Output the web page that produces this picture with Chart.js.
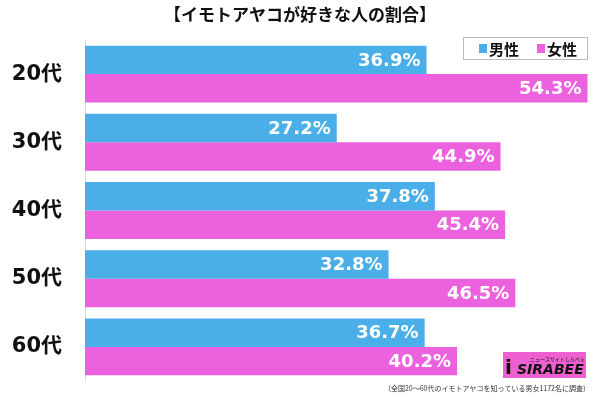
<!DOCTYPE html>
<html>
<head>
<meta charset="utf-8">
<script src="https://cdn.jsdelivr.net/npm/chart.js@4"></script>
<style>
  html, body { margin: 0; padding: 0; background: #fff; }
  #wrap { width: 600px; height: 396px; }
</style>
</head>
<body>
<div id="wrap"><canvas id="myChart" width="600" height="396"></canvas></div>
<script>
const categories = ['20代', '30代', '40代', '50代', '60代'];
const maleValues = [36.9, 27.2, 37.8, 32.8, 36.7];
const femaleValues = [54.3, 44.9, 45.4, 46.5, 40.2];
const seriesNames = ['男性', '女性'];

const BLUE = '#4aaee8';
const PINK = '#ec62de';
const JP = '"Noto Sans CJK JP", "Noto Sans", sans-serif';
const NUM = '"DejaVu Sans", "Noto Sans CJK JP", sans-serif';

// title, legend, value labels, footnote and logo
const decorations = {
  id: 'decorations',
  afterDatasetsDraw(chart) {
    const ctx = chart.ctx;
    const area = chart.chartArea;
    ctx.save();

    // value labels at bar ends
    ctx.fillStyle = '#fff';
    ctx.font = 'bold 18px ' + NUM;
    ctx.textAlign = 'right';
    ctx.textBaseline = 'middle';
    chart.data.datasets.forEach((ds, di) => {
      chart.getDatasetMeta(di).data.forEach((bar, i) => {
        const x = Math.min(bar.x, area.right) - 6;
        ctx.fillText(ds.data[i].toFixed(1) + '%', x, bar.y + 1);
      });
    });

    // title
    ctx.fillStyle = '#111';
    ctx.font = 'bold 17px ' + JP;
    ctx.textAlign = 'center';
    ctx.fillText('【イモトアヤコが好きな人の割合】', 300, 15);

    // legend box
    ctx.fillStyle = '#fff';
    ctx.fillRect(463, 37, 125, 23);
    ctx.strokeStyle = '#bbb';
    ctx.lineWidth = 1;
    ctx.strokeRect(463.5, 37.5, 124, 22);
    ctx.font = 'bold 15px ' + JP;
    ctx.textAlign = 'left';
    const colors = [BLUE, PINK];
    const lx = [479, 537];
    seriesNames.forEach((name, k) => {
      ctx.fillStyle = colors[k];
      ctx.fillRect(lx[k], 44, 8, 9);
      ctx.fillStyle = '#111';
      ctx.fillText(name, lx[k] + 10, 49);
    });

    // logo
    ctx.fillStyle = '#ee5fd0';
    ctx.fillRect(503, 352, 83, 26);
    ctx.fillStyle = '#111';
    ctx.font = 'italic bold 14px "DejaVu Sans", sans-serif';
    ctx.fillText('SIRABEE', 517, 370);
    ctx.font = 'bold 20px "DejaVu Sans", sans-serif';
    ctx.fillText('i', 505, 369);
    ctx.font = '5px ' + JP;
    ctx.fillText('ニュースサイトしらべぇ', 530, 359);

    // footnote
    ctx.fillStyle = '#333';
    ctx.font = '7px ' + JP;
    ctx.textAlign = 'right';
    ctx.fillText('（全国20～60代のイモトアヤコを知っている男女1172名に調査）', 590, 388);

    ctx.restore();
  }
};

new Chart(document.getElementById('myChart'), {
  type: 'bar',
  data: {
    labels: categories,
    datasets: [
      { label: seriesNames[0], data: maleValues, backgroundColor: BLUE },
      { label: seriesNames[1], data: femaleValues, backgroundColor: PINK }
    ]
  },
  options: {
    indexAxis: 'y',
    responsive: false,
    animation: false,
    layout: { padding: { top: 40, bottom: 15, left: 0, right: 6 } },
    datasets: { bar: { categoryPercentage: 0.835, barPercentage: 1 } },
    plugins: { legend: { display: false }, title: { display: false }, tooltip: { enabled: false } },
    scales: {
      x: { display: false, min: 0, max: 55 },
      y: {
        grid: { display: false },
        border: { display: true, color: '#dcdcdc', width: 1 },
        ticks: { color: '#111', font: { family: NUM, size: 21, weight: 'bold' }, padding: 15 },
        afterFit(scale) {
          scale.width = 85;
          scale.paddingTop = 0;
          scale.paddingBottom = 0;
        }
      }
    }
  },
  plugins: [decorations]
});
</script>
</body>
</html>
